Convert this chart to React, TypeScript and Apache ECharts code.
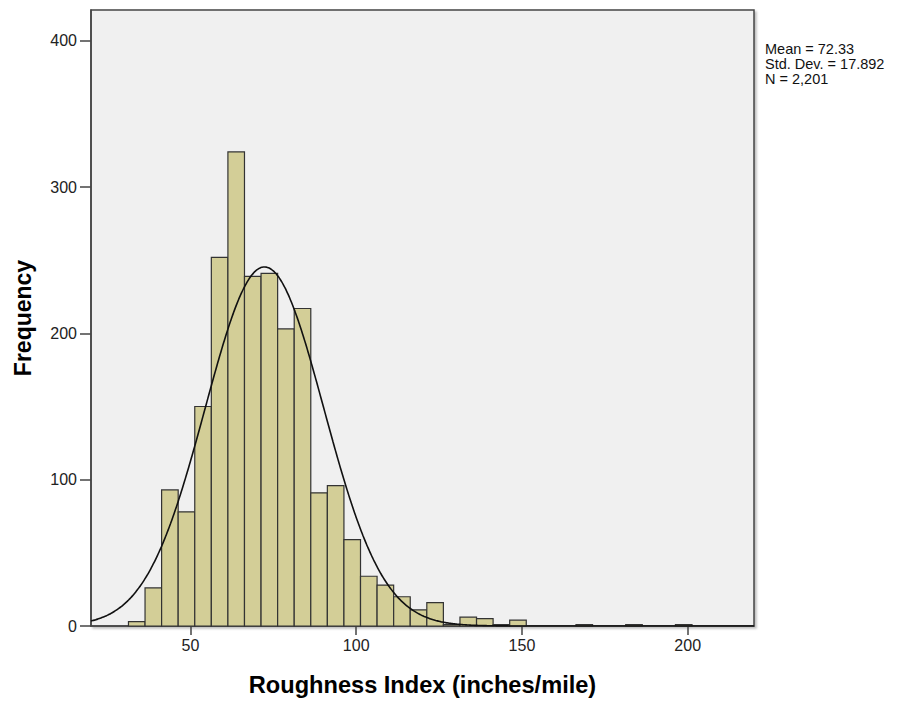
import React, { useEffect, useRef } from "react";
import * as echarts from "echarts";

// Histogram data (counts per bin)
const BIN_START = 31.3;
const BIN_WIDTH = 5;
const counts: number[] = [
  3, 26, 93, 78, 150, 252, 324, 239, 241, 203, 217, 91, 96, 59, 34, 28, 20, 11,
  16, 1, 6, 5, 1, 4, 0, 0, 0, 1, 0, 0, 1, 0, 0, 1,
];
const xTickValues: number[] = [50, 100, 150, 200];
const yTickValues: number[] = [0, 100, 200, 300, 400];
const MEAN = 72.33;
const STD = 17.892;
const N = 2201;
const statsLines: string[] = ["Mean = 72.33", "Std. Dev. = 17.892", "N = 2,201"];

const FONT = 'Arial, "Liberation Sans", sans-serif';

export default function App() {
  const ref = useRef<HTMLDivElement>(null);
  useEffect(() => {
    if (!ref.current) return;
    const chart = echarts.init(ref.current, undefined, { renderer: "svg" });

    const bars = counts.map((c, i) => [
      BIN_START + i * BIN_WIDTH,
      BIN_START + (i + 1) * BIN_WIDTH,
      c,
    ]);

    const curve: number[][] = [];
    for (let x = 20; x <= 220; x += 0.5) {
      const z = (x - MEAN) / STD;
      const y = (N * BIN_WIDTH * Math.exp(-0.5 * z * z)) / (STD * Math.sqrt(2 * Math.PI));
      curve.push([x, y]);
    }

    chart.setOption({
      animation: false,
      backgroundColor: "#ffffff",
      grid: {
        left: 91,
        top: 10,
        right: 163,
        bottom: 73,
        show: true,
        backgroundColor: "#F0F0F0",
        borderColor: "#444444",
        borderWidth: 1.5,
        shadowColor: "rgba(0,0,0,0.25)",
        shadowBlur: 2,
        shadowOffsetX: 2,
        shadowOffsetY: 2,
      },
      xAxis: {
        type: "value",
        min: 20,
        max: 220,
        name: "Roughness Index (inches/mile)",
        nameLocation: "middle",
        nameGap: 47,
        nameTextStyle: { fontFamily: FONT, fontSize: 23.6, fontWeight: "bold", color: "#000" },
        axisLine: { show: true, lineStyle: { color: "#444444", width: 1.5 } },
        axisTick: { show: true, length: 9, customValues: xTickValues, lineStyle: { color: "#444444", width: 1.5 } },
        axisLabel: { customValues: xTickValues, fontFamily: FONT, fontSize: 16, color: "#222", margin: 11 },
        splitLine: { show: false },
      },
      yAxis: {
        type: "value",
        min: 0,
        max: 421,
        name: "Frequency",
        nameLocation: "middle",
        nameGap: 57,
        nameTextStyle: { fontFamily: FONT, fontSize: 23, fontWeight: "bold", color: "#000" },
        axisLine: { show: true, lineStyle: { color: "#444444", width: 1.5 } },
        axisTick: { show: true, length: 11, customValues: yTickValues, lineStyle: { color: "#444444", width: 1.5 } },
        axisLabel: { customValues: yTickValues, fontFamily: FONT, fontSize: 16, color: "#222", margin: 14 },
        splitLine: { show: false },
      },
      series: [
        {
          type: "custom",
          data: bars,
          encode: { x: [0, 1], y: 2 },
          renderItem: (params: any, api: any) => {
            const x0 = api.value(0);
            const x1 = api.value(1);
            const v = api.value(2);
            if (!v) return null;
            const p0 = api.coord([x0, v]);
            const p1 = api.coord([x1, 0]);
            return {
              type: "rect",
              shape: { x: p0[0], y: p0[1], width: p1[0] - p0[0], height: p1[1] - p0[1] },
              style: { fill: "#D3CE97", stroke: "#333333", lineWidth: 1.2 },
            };
          },
          z: 2,
        },
        {
          type: "line",
          data: curve,
          showSymbol: false,
          smooth: true,
          lineStyle: { color: "#111111", width: 1.6 },
          z: 3,
        },
      ],
      graphic: statsLines.map((t, i) => ({
        type: "text",
        left: 765,
        top: 41 + i * 15,
        style: { text: t, font: `14.5px ${FONT}`, fill: "#111" },
      })),
    });

    return () => chart.dispose();
  }, []);

  return (
    <div
      ref={ref}
      style={{ position: "fixed", left: 0, top: 0, width: 917, height: 702 }}
    />
  );
}
